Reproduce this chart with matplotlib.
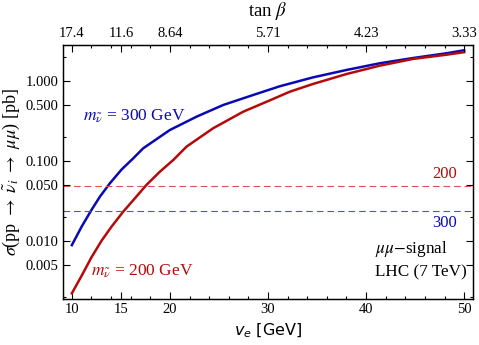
import numpy as np
import matplotlib
matplotlib.use('Agg')
import matplotlib.pyplot as plt
from matplotlib.ticker import FixedLocator, NullFormatter

plt.rcParams['font.family'] = ['Liberation Serif', 'DejaVu Serif']
plt.rcParams['mathtext.fontset'] = 'stix'

# cross sections
ve_300 = [10.0, 11.0, 12.0, 12.86, 13.88, 15.07, 16.26, 17.28, 20.0, 22.72, 25.44,
          28.5, 31.2, 34.6, 38.0, 41.4, 44.8, 48.2, 50.0]
sig_300 = [0.0088, 0.0150, 0.0242, 0.0355, 0.0522, 0.0775, 0.107, 0.143, 0.242, 0.355, 0.497,
           0.663, 0.851, 1.10, 1.36, 1.65, 1.92, 2.20, 2.40]
ve_200 = [10.0, 11.0, 12.0, 13.03, 14.05, 15.23, 16.43, 17.62, 18.98, 20.34, 21.7,
          24.4, 27.48, 29.87, 32.24, 34.6, 38.0, 41.4, 44.8, 48.2, 50.0]
sig_200 = [0.0022, 0.00365, 0.0062, 0.0100, 0.015, 0.023, 0.0339, 0.050, 0.0729, 0.102, 0.150,
           0.254, 0.41, 0.546, 0.729, 0.91, 1.21, 1.54, 1.87, 2.11, 2.27]

# limits (horizontal dashed)
lim_200 = 0.0487
lim_300 = 0.0237

xticks = [10, 15, 20, 30, 40, 50]
tanb_labels = ['17.4', '11.6', '8.64', '5.71', '4.23', '3.33']
yticks = [0.005, 0.01, 0.05, 0.1, 0.5, 1.0]
ylabels = ['0.005', '0.010', '0.050', '0.100', '0.500', '1.000']

blue = '#0a0ab4'
red = '#b40a0a'

fig = plt.figure(figsize=(4.79, 3.45), dpi=100)
ax = fig.add_axes([63/479, 1-299/345, 410/479, 254/345])

ax.plot(ve_300, sig_300, color=blue, lw=1.8, solid_joinstyle='round')
ax.plot(ve_200, sig_200, color=red, lw=1.8, solid_joinstyle='round')
ax.axhline(lim_200, color='#e05050', lw=0.8, ls=(0, (6, 3.5)))
ax.axhline(lim_300, color='#5050d0', lw=0.8, ls=(0, (6, 3.5)))

ax.set_yscale('log')
ax.set_xlim(9.1, 50.9)
ax.set_ylim(0.00187, 2.79)

ax.set_xticks(xticks)
ax.set_xticklabels([str(t) for t in xticks])
ax.xaxis.set_minor_locator(FixedLocator([t for t in range(10, 51, 2) if t not in xticks]))
ax.yaxis.set_major_locator(FixedLocator(yticks))
ax.set_yticklabels(ylabels)
ax.yaxis.set_minor_locator(FixedLocator([0.002, 0.02, 0.2, 2.0]))
ax.yaxis.set_minor_formatter(NullFormatter())

ax.tick_params(which='both', direction='in', top=False, right=True, labelsize=10.5, width=0.8)
ax.tick_params(which='major', length=5)
ax.tick_params(which='minor', length=2.5)
ax.tick_params(axis='x', pad=3)

top = ax.twiny()
top.set_xlim(ax.get_xlim())
top.set_xticks(xticks)
top.set_xticklabels(tanb_labels)
top.xaxis.set_minor_locator(FixedLocator([t for t in range(10, 51, 2) if t not in xticks]))
top.tick_params(which='both', direction='in', labelsize=10.5, width=0.8)
top.tick_params(which='major', length=5)
top.tick_params(which='minor', length=2.5)
top.set_xlabel(r'tan $\beta$', fontsize=13.5, labelpad=8)

ax.set_xlabel(r'$v_e$ [GeV]', fontsize=11.5, family='DejaVu Sans',
              math_fontfamily='dejavusans', labelpad=4)
ax.set_ylabel(r'$\sigma$(pp $\rightarrow$ $\tilde{\nu}_i$ $\rightarrow$ $\mu\mu$) [pb]', fontsize=13, labelpad=2)

ax.text(11.1, 0.36, r'$m_{\tilde{\nu}}$ = 300 GeV', color=blue, fontsize=12.5, va='center')
ax.text(12.0, 0.0042, r'$m_{\tilde{\nu}}$ = 200 GeV', color=red, fontsize=12.5, va='center')
ax.text(49.3, lim_200 * 1.12, '200', color=red, fontsize=12, ha='right', va='bottom')
ax.text(49.3, lim_300 / 1.12, '300', color=blue, fontsize=12, ha='right', va='top')
ax.text(40.9, 0.0079, r'$\mu\mu$$-$signal', fontsize=12.3, va='center')
ax.text(40.9, 0.0040, 'LHC (7 TeV)', fontsize=12.3, va='center')

for s in list(ax.spines.values()) + list(top.spines.values()):
    s.set_linewidth(0.9)

fig.savefig('out.png', dpi=100)
